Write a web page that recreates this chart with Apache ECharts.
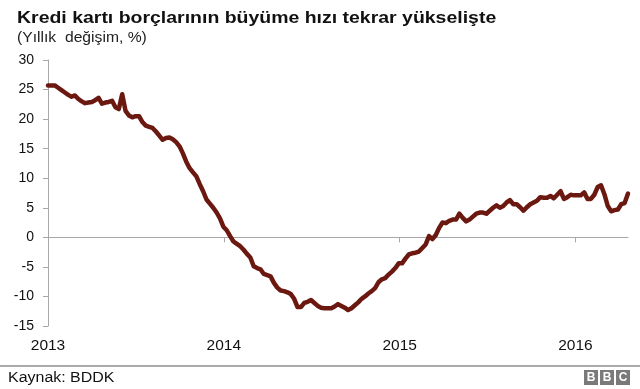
<!DOCTYPE html>
<html>
<head>
<meta charset="utf-8">
<script src="https://cdn.jsdelivr.net/npm/echarts@6/dist/echarts.min.js"></script>
<style>
html,body{margin:0;padding:0;background:#fff;}
#chart{width:640px;height:389px;}
</style>
</head>
<body>
<div id="chart"></div>
<script>
// Weekly observations starting 2013-01-01 (annual % change)
var startDate = '2013-01-01';
var stepDays = 7;
var growth = [
  25.7, 25.7, 25.7, 25.3, 24.9, 24.5, 24.1, 23.8, 24.0, 23.4,
  23.0, 22.7, 22.8, 22.9, 23.2, 23.6, 22.6, 22.8, 22.9, 23.1,
  22.0, 21.7, 24.2, 21.4, 20.6, 20.3, 20.5, 20.5, 19.5, 18.9,
  18.7, 18.5, 17.9, 17.2, 16.5, 16.8, 16.9, 16.6, 16.1, 15.4,
  14.2, 12.8, 11.7, 11.0, 10.3, 9.0, 7.8, 6.4, 5.7, 5.0,
  4.2, 3.2, 1.8, 1.2, 0.2, -0.7, -1.1, -1.5, -2.1, -2.8,
  -3.4, -4.9, -5.2, -5.4, -6.2, -6.4, -6.6, -7.7, -8.5, -9.0,
  -9.1, -9.3, -9.6, -10.4, -11.8, -11.8, -11.1, -10.9, -10.6, -11.1,
  -11.6, -11.9, -12.0, -12.0, -12.0, -11.7, -11.3, -11.6, -11.9, -12.3,
  -12.0, -11.5, -11.0, -10.4, -10.0, -9.5, -9.1, -8.6, -7.6, -7.1,
  -6.9, -6.3, -5.8, -5.2, -4.4, -4.4, -3.6, -2.9, -2.7, -2.6,
  -2.4, -1.8, -1.2, 0.2, -0.3, 0.4, 1.6, 2.5, 2.4, 2.8,
  3.0, 3.0, 4.0, 3.3, 2.7, 3.0, 3.5, 4.0, 4.2, 4.2,
  4.0, 4.5, 5.0, 5.4, 5.0, 5.3, 5.9, 6.3, 5.6, 5.6,
  5.1, 4.5, 5.1, 5.6, 5.9, 6.2, 6.8, 6.7, 6.7, 7.0,
  6.6, 7.2, 7.8, 6.5, 6.8, 7.2, 7.1, 7.1, 7.1, 7.6,
  6.5, 6.5, 7.2, 8.5, 8.8, 7.3, 5.3, 4.4, 4.6, 4.7,
  5.6, 5.8, 7.4
];
var yearLabels = ['2013', '2014', '2015', '2016'];
var yearStartDays = [0, 365, 730, 1095];   // days since 2013-01-01
var yTicks = [-15, -10, -5, 0, 5, 10, 15, 20, 25, 30];

var seriesData = growth.map(function (v, i) { return [i * stepDays, v]; });
var lastDay = (growth.length - 1) * stepDays;

var font = '"Liberation Sans", Arial, sans-serif';
var chart = echarts.init(document.getElementById('chart'), null, {renderer: 'canvas'});
chart.setOption({
  animation: false,
  backgroundColor: '#ffffff',
  grid: {left: 48, right: 12, top: 60, bottom: 63, containLabel: false},
  xAxis: [{
    type: 'value', min: 0, max: lastDay, position: 'bottom',
    axisLine: {show: false, onZero: false},
    axisTick: {show: false},
    splitLine: {show: false},
    axisLabel: {
      customValues: yearStartDays,
      margin: 12, fontFamily: font, fontSize: 15.5, color: '#111',
      formatter: function (v) { var k = yearStartDays.indexOf(v); return k >= 0 ? yearLabels[k] : ''; }
    }
  }, {
    type: 'value', min: 0, max: lastDay, position: 'bottom',
    axisLine: {show: true, onZero: true, lineStyle: {color: '#a8a8a8', width: 1}},
    axisTick: {show: true, customValues: yearStartDays, length: 5, lineStyle: {color: '#a8a8a8'}},
    axisLabel: {show: false},
    splitLine: {show: false}
  }],
  yAxis: {
    type: 'value', min: -15, max: 30, interval: 5,
    axisLine: {show: true, lineStyle: {color: '#a8a8a8', width: 1}},
    axisTick: {show: true, inside: false, length: 5, lineStyle: {color: '#a8a8a8'}},
    splitLine: {show: false},
    axisLabel: {margin: 14, fontFamily: font, fontSize: 14, color: '#111',
      formatter: function (v) { return yTicks.indexOf(v) >= 0 ? String(v) : ''; }}
  },
  series: [{
    type: 'line', xAxisIndex: 1, data: seriesData,
    showSymbol: false, symbol: 'none',
    lineStyle: {color: '#6b1810', width: 4.5, join: 'round', cap: 'round'},
    z: 3
  }],
  graphic: [
    {type: 'text', x: 17, y: 10, scaleX: 1.145,
      style: {text: 'Kredi kartı borçlarının büyüme hızı tekrar yükselişte', font: 'bold 17px "Liberation Sans", Arial, sans-serif', fill: '#111', verticalAlign: 'top'}},
    {type: 'text', x: 17, y: 31, scaleX: 1.12,
      style: {text: '(Yıllık  değişim, %)', font: '14px "Liberation Sans", Arial, sans-serif', fill: '#222', verticalAlign: 'top'}},
    {type: 'line', shape: {x1: 0, y1: 366, x2: 640, y2: 366}, style: {stroke: '#aaaaaa', lineWidth: 2}},
    {type: 'text', x: 8, y: 371, scaleX: 1.14,
      style: {text: 'Kaynak: BDDK', font: '14px "Liberation Sans", Arial, sans-serif', fill: '#111', verticalAlign: 'top'}},
    {type: 'rect', shape: {x: 584, y: 370, width: 14, height: 15}, style: {fill: '#7a7a7a'}},
    {type: 'rect', shape: {x: 600, y: 370, width: 14, height: 15}, style: {fill: '#7a7a7a'}},
    {type: 'rect', shape: {x: 616, y: 370, width: 14, height: 15}, style: {fill: '#7a7a7a'}},
    {type: 'text', x: 591, y: 378, style: {text: 'B', font: 'bold 12px "Liberation Sans", Arial, sans-serif', fill: '#fff', align: 'center', verticalAlign: 'middle'}},
    {type: 'text', x: 607, y: 378, style: {text: 'B', font: 'bold 12px "Liberation Sans", Arial, sans-serif', fill: '#fff', align: 'center', verticalAlign: 'middle'}},
    {type: 'text', x: 623, y: 378, style: {text: 'C', font: 'bold 12px "Liberation Sans", Arial, sans-serif', fill: '#fff', align: 'center', verticalAlign: 'middle'}}
  ]
});
</script>
</body>
</html>
